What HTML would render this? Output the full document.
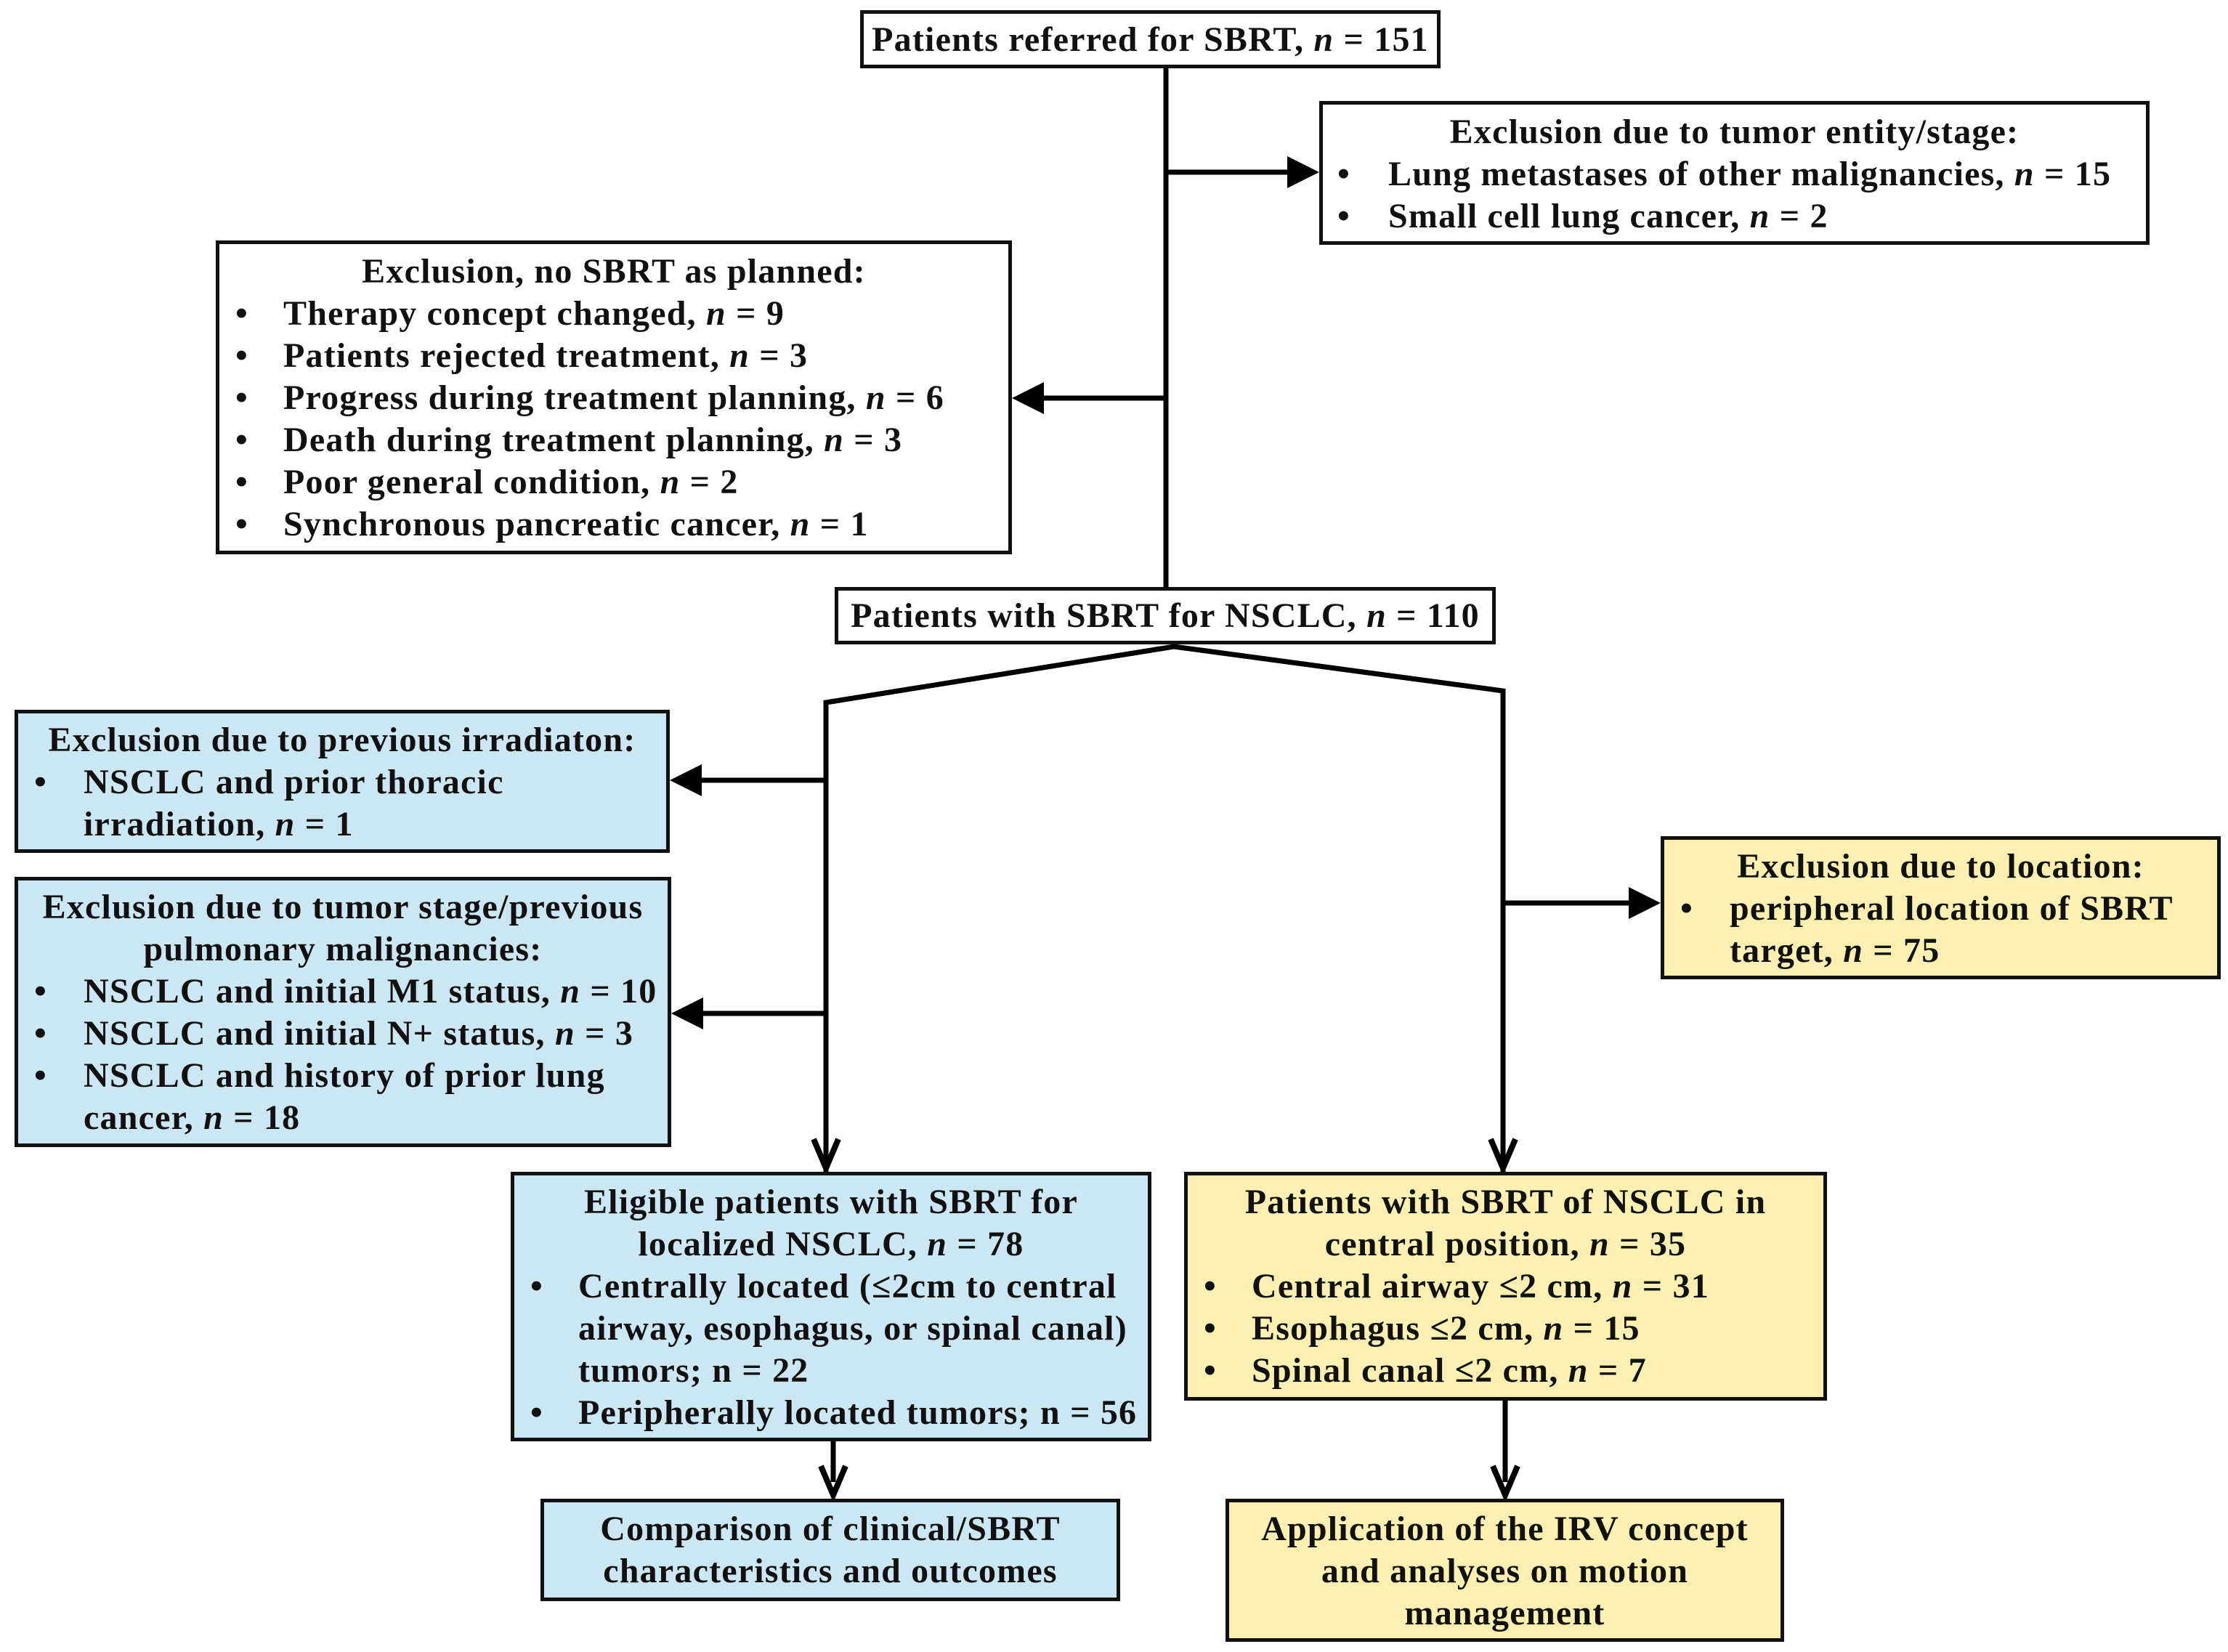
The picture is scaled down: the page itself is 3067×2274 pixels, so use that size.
<!DOCTYPE html>
<html><head><meta charset="utf-8">
<style>
html,body{margin:0;padding:0;background:#fff;}
body{width:3067px;height:2274px;position:relative;overflow:hidden;font-family:"Liberation Serif",serif;font-weight:bold;color:#111;}
.b{position:absolute;box-sizing:border-box;border:5px solid #111;background:#fff;font-size:48px;letter-spacing:1.2px;line-height:58px;white-space:nowrap;}
.blue{background:#cbe7f4;}
.yel{background:#fbefb2;}
.t{text-align:center;}
.li{position:relative;padding-left:var(--tx);}
.li:before{content:"•";position:absolute;left:var(--bx);}
i{font-style:italic;}
svg{position:absolute;left:0;top:0;}
</style></head><body>
<svg width="3067" height="2274" viewBox="0 0 3067 2274">
<g stroke="#000" stroke-width="7" fill="none">
<line x1="1605" y1="94" x2="1605" y2="808"/>
<line x1="1605" y1="237" x2="1780" y2="237"/>
<line x1="1605" y1="548" x2="1430" y2="548"/>
<polyline points="1137,1613 1137,967 1616,890 2069,951 2069,1613"/>
<line x1="1137" y1="1074" x2="960" y2="1074"/>
<line x1="1137" y1="1395" x2="962" y2="1395"/>
<line x1="2069" y1="1243" x2="2250" y2="1243"/>
<line x1="1147" y1="1984" x2="1147" y2="2040"/>
<line x1="2072" y1="1928" x2="2072" y2="2040"/>
</g>
<g fill="#000">
<polygon points="1816,237 1772,215 1772,259"/>
<polygon points="1393,548 1437,526 1437,570"/>
<polygon points="922,1074 966,1052 966,1096"/>
<polygon points="924,1395 968,1373 968,1417"/>
<polygon points="2286,1243 2242,1221 2242,1265"/>
</g>
<g stroke="#000" stroke-width="8" fill="none">
<polyline points="1120,1568 1137,1608 1154,1568"/>
<polyline points="2052,1568 2069,1608 2086,1568"/>
<polyline points="1130,2018 1147,2058 1164,2018"/>
<polyline points="2055,2018 2072,2058 2089,2018"/>
</g>
</svg>

<div class="b t" style="left:1184px;top:14px;width:799px;height:80px;padding-top:7px;">Patients referred for SBRT, <i>n</i> = 151</div>

<div class="b" style="left:1816px;top:139px;width:1143px;height:198px;padding-top:9px;--tx:90px;--bx:20px;">
<div class="t">Exclusion due to tumor entity/stage:</div>
<div class="li">Lung metastases of other malignancies, <i>n</i> = 15</div>
<div class="li">Small cell lung cancer, <i>n</i> = 2</div>
</div>

<div class="b" style="left:297px;top:331px;width:1096px;height:432px;padding-top:9px;--tx:88px;--bx:22px;">
<div class="t">Exclusion, no SBRT as planned:</div>
<div class="li">Therapy concept changed, <i>n</i> = 9</div>
<div class="li">Patients rejected treatment, <i>n</i> = 3</div>
<div class="li">Progress during treatment planning, <i>n</i> = 6</div>
<div class="li">Death during treatment planning, <i>n</i> = 3</div>
<div class="li">Poor general condition, <i>n</i> = 2</div>
<div class="li">Synchronous pancreatic cancer, <i>n</i> = 1</div>
</div>

<div class="b t" style="left:1149px;top:808px;width:910px;height:79px;padding-top:6px;">Patients with SBRT for NSCLC, <i>n</i> = 110</div>

<div class="b blue" style="left:20px;top:977px;width:902px;height:197px;padding-top:8px;--tx:90px;--bx:22px;">
<div class="t">Exclusion due to previous irradiaton:</div>
<div class="li">NSCLC and prior thoracic<br>irradiation, <i>n</i> = 1</div>
</div>

<div class="b blue" style="left:20px;top:1207px;width:904px;height:372px;padding-top:8px;--tx:90px;--bx:22px;">
<div class="t">Exclusion due to tumor stage/previous<br>pulmonary malignancies:</div>
<div class="li">NSCLC and initial M1 status, <i>n</i> = 10</div>
<div class="li">NSCLC and initial N+ status, <i>n</i> = 3</div>
<div class="li">NSCLC and history of prior lung<br>cancer, <i>n</i> = 18</div>
</div>

<div class="b yel" style="left:2286px;top:1151px;width:771px;height:197px;padding-top:8px;--tx:90px;--bx:22px;">
<div class="t">Exclusion due to location:</div>
<div class="li">peripheral location of SBRT<br>target, <i>n</i> = 75</div>
</div>

<div class="b blue" style="left:703px;top:1613px;width:882px;height:371px;padding-top:8px;--tx:88px;--bx:22px;">
<div class="t">Eligible patients with SBRT for<br>localized NSCLC, <i>n</i> = 78</div>
<div class="li">Centrally located (≤2cm to central<br>airway, esophagus, or spinal canal)<br>tumors; n = 22</div>
<div class="li">Peripherally located tumors; n = 56</div>
</div>

<div class="b yel" style="left:1630px;top:1613px;width:885px;height:315px;padding-top:8px;--tx:88px;--bx:22px;">
<div class="t">Patients with SBRT of NSCLC in<br>central position, <i>n</i> = 35</div>
<div class="li">Central airway ≤2 cm, <i>n</i> = 31</div>
<div class="li">Esophagus ≤2 cm, <i>n</i> = 15</div>
<div class="li">Spinal canal ≤2 cm, <i>n</i> = 7</div>
</div>

<div class="b blue t" style="left:744px;top:2063px;width:798px;height:141px;padding-top:8px;">Comparison of clinical/SBRT<br>characteristics and outcomes</div>

<div class="b yel t" style="left:1687px;top:2063px;width:769px;height:197px;padding-top:8px;">Application of the IRV concept<br>and analyses on motion<br>management</div>
</body></html>
